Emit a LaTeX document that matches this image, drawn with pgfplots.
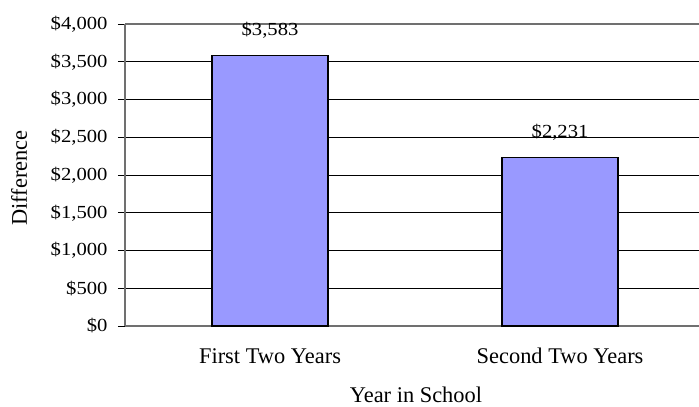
\documentclass[border=0pt]{standalone}
\usepackage{fontspec}
\setmainfont{Liberation Serif}
\newfontfamily\tickfont[FakeStretch=1.12]{Liberation Serif}
\usepackage{pgfplots}
\pgfplotsset{compat=1.18}
\definecolor{barc}{HTML}{9999FF}
\definecolor{axc}{HTML}{707070}
\begin{document}
\begin{tikzpicture}
\begin{axis}[
  scale only axis,
  width=574bp, height=302bp,
  xmin=-0.5, xmax=1.479,
  ymin=0, ymax=4000,
  axis lines=left,
  axis line style={axc, line width=1.6bp, -},
  xtick={0,1},
  xticklabels={First Two Years, Second Two Years},
  x tick style={draw=none},
  extra x ticks={0.5},
  extra x tick labels={},
  extra x tick style={tick style={axc, line width=1bp, draw=axc}, major tick length=7bp, tick align=outside},
  ytick={0,500,...,4000},
  yticklabels={\$0,\$500,{\$1,000},{\$1,500},{\$2,000},{\$2,500},{\$3,000},{\$3,500},{\$4,000}},
  y tick style={black, line width=0.8bp},
  tick align=outside,
  major tick length=7bp,
  ymajorgrids,
  grid style={black, line width=0.8bp},
  yticklabel style={anchor=east, xshift=-7bp, font=\fontsize{18.5}{21}\tickfont},
  xticklabel style={anchor=center, yshift=-23bp, font=\fontsize{22.5}{25}\selectfont},
  clip=false,
]
\addplot[ybar, bar width=116bp, fill=barc, draw=black, line width=1.6bp,
  nodes near coords={\$\pgfmathprintnumber[1000 sep={,}, assume math mode=true]{\pgfplotspointmeta}},
  every node near coord/.append style={font=\fontsize{18.5}{21}\tickfont, black, yshift=13bp}]
  coordinates {(0,3583) (1,2231)};
\draw[axc, line width=1.6bp] (rel axis cs:0,1) -- (rel axis cs:1,1);
\coordinate (sw) at (rel axis cs:0,0);
\coordinate (ne) at (rel axis cs:1,1);
\end{axis}
\node[font=\fontsize{22.5}{25}\selectfont] at ([xshift=291bp,yshift=-69bp]sw) {Year in School};
\node[font=\fontsize{22.5}{25}\selectfont, rotate=90] at ([xshift=-106bp,yshift=148bp]sw) {Difference};
\pgfresetboundingbox
\path ([xshift=-125bp,yshift=-81bp]sw) rectangle ([yshift=24bp]ne);
\end{tikzpicture}
\end{document}
